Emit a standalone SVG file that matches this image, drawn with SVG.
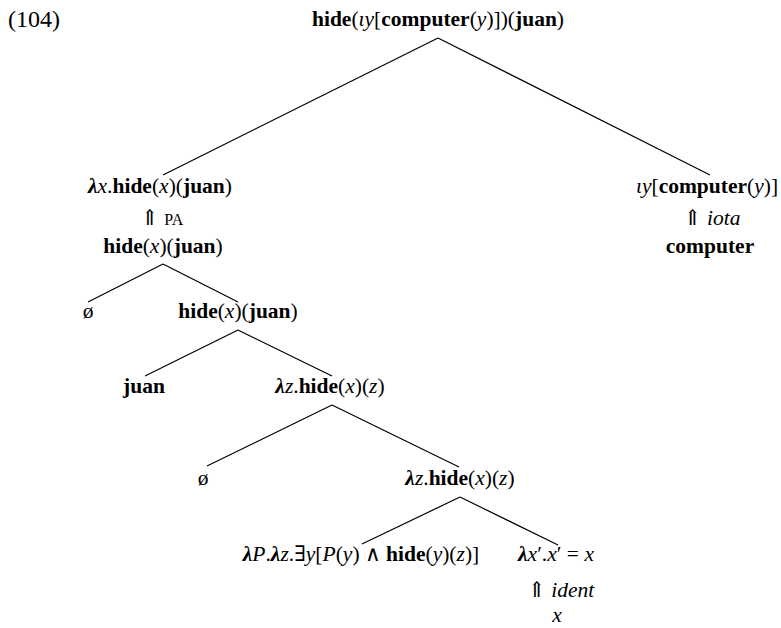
<svg xmlns="http://www.w3.org/2000/svg" width="781" height="628" viewBox="0 0 781 628">
<style>
text{font-family:"Liberation Serif","DejaVu Serif",serif;font-size:21.5px;fill:#000;text-anchor:middle}
.b{font-weight:bold}
.i{font-style:italic}
.sm{font-size:16px}
#connectors line{stroke:#000;stroke-width:1.2}
</style>
<rect width="781" height="628" fill="#fff"/>
<text x="8" y="27" style="text-anchor:start;font-size:24px">(104)</text>
<g id="connectors">
<line x1="438" y1="38" x2="163" y2="175"/>
<line x1="438" y1="38" x2="710" y2="175"/>
<line x1="163" y1="264" x2="88" y2="302"/>
<line x1="163" y1="264" x2="238" y2="302"/>
<line x1="238" y1="330" x2="145" y2="376"/>
<line x1="238" y1="330" x2="332" y2="376"/>
<line x1="332" y1="405" x2="207" y2="466"/>
<line x1="332" y1="405" x2="459" y2="467"/>
<line x1="460" y1="497" x2="362" y2="544"/>
<line x1="460" y1="497" x2="558" y2="545"/>
</g>
<g id="n-root"><text x="438" y="26"><tspan class="b">hide</tspan>(<tspan class="i">ιy</tspan>[<tspan class="b">computer</tspan>(<tspan class="i">y</tspan>)])(<tspan class="b">juan</tspan>)</text></g>
<g id="n-lambda-x"><text x="160" y="193"><tspan class="b i">λ</tspan><tspan class="i">x</tspan>.<tspan class="b">hide</tspan>(<tspan class="i">x</tspan>)(<tspan class="b">juan</tspan>)</text></g>
<g id="n-pa"><text x="162" y="225">⇑ <tspan class="sm">PA</tspan></text></g>
<g id="n-hide1"><text x="163" y="253"><tspan class="b">hide</tspan>(<tspan class="i">x</tspan>)(<tspan class="b">juan</tspan>)</text></g>
<g id="n-iota-y"><text x="707" y="193"><tspan class="i">ιy</tspan>[<tspan class="b">computer</tspan>(<tspan class="i">y</tspan>)]</text></g>
<g id="n-iota"><text x="712" y="225">⇑ <tspan class="i">iota</tspan></text></g>
<g id="n-computer"><text x="710" y="253" class="b">computer</text></g>
<g id="n-empty1"><text x="88" y="318">ø</text></g>
<g id="n-hide2"><text x="238" y="318"><tspan class="b">hide</tspan>(<tspan class="i">x</tspan>)(<tspan class="b">juan</tspan>)</text></g>
<g id="n-juan"><text x="144" y="393" class="b">juan</text></g>
<g id="n-lz1"><text x="330" y="393"><tspan class="b i">λ</tspan><tspan class="i">z</tspan>.<tspan class="b">hide</tspan>(<tspan class="i">x</tspan>)(<tspan class="i">z</tspan>)</text></g>
<g id="n-empty2"><text x="203" y="485">ø</text></g>
<g id="n-lz2"><text x="460" y="485"><tspan class="b i">λ</tspan><tspan class="i">z</tspan>.<tspan class="b">hide</tspan>(<tspan class="i">x</tspan>)(<tspan class="i">z</tspan>)</text></g>
<g id="n-lP"><text x="361" y="561"><tspan class="b i">λ</tspan><tspan class="i">P</tspan>.<tspan class="b i">λ</tspan><tspan class="i">z</tspan>.∃<tspan class="i">y</tspan>[<tspan class="i">P</tspan>(<tspan class="i">y</tspan>) ∧ <tspan class="b">hide</tspan>(<tspan class="i">y</tspan>)(<tspan class="i">z</tspan>)]</text></g>
<g id="n-lx2"><text x="556" y="561"><tspan class="b i">λ</tspan><tspan class="i">x</tspan>′.<tspan class="i">x</tspan>′ = <tspan class="i">x</tspan></text></g>
<g id="n-ident"><text x="561" y="597">⇑ <tspan class="i">ident</tspan></text></g>
<g id="n-x"><text x="557" y="622" class="i">x</text></g>
</svg>
